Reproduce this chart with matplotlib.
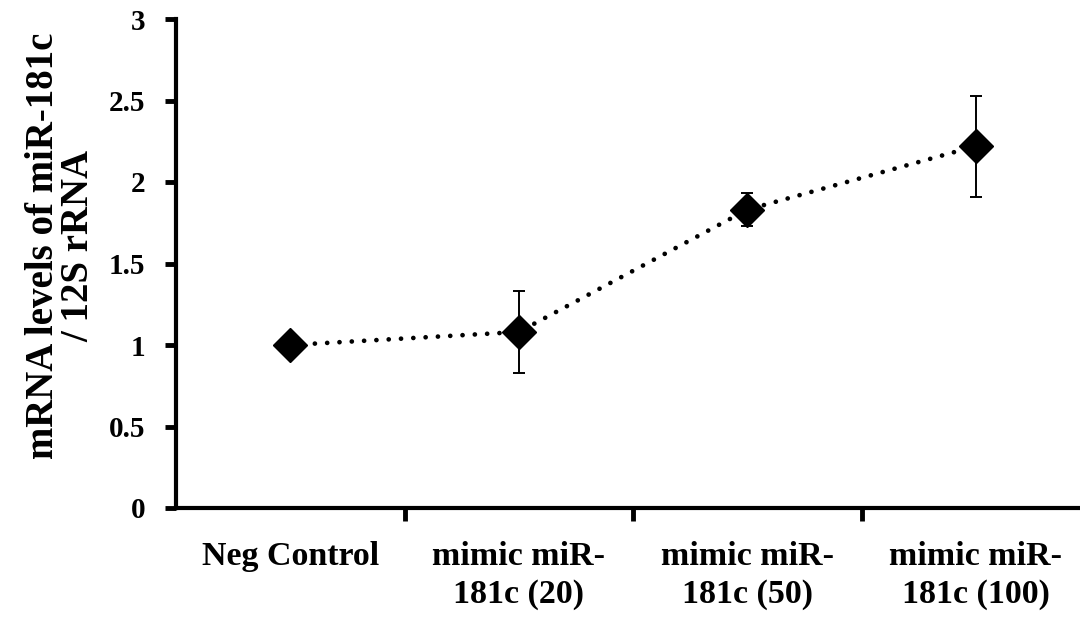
import matplotlib
matplotlib.use("Agg")
from matplotlib import pyplot as plt

groups = ["Neg Control", "mimic miR-\n181c (20)", "mimic miR-\n181c (50)", "mimic miR-\n181c (100)"]
levels = [1.0, 1.08, 1.83, 2.22]
errors = [0.0, 0.25, 0.10, 0.31]

plt.rcParams['font.family'] = ['Liberation Serif', 'DejaVu Serif']
plt.rcParams['font.weight'] = 'bold'

fig = plt.figure(figsize=(10.8, 6.19), dpi=100)
ax = fig.add_axes([176/1080, 1 - 508/619, 914/1080, 489/619])

x = list(range(len(groups)))
# dotted connecting line
ax.plot(x, levels, color='black', lw=3.4, linestyle=(0, (0.01, 2.6)),
        dash_capstyle='round', zorder=2)
ax.errorbar(x, levels, yerr=errors, fmt='none', ecolor='black',
            elinewidth=1.4, capsize=4, capthick=1.4, zorder=3)
ax.plot(x, levels, linestyle='none', marker='D', markersize=17,
        color='black', zorder=4)

ax.set_xlim(-0.5, 3.5)
ax.set_ylim(0, 3)
ax.set_yticks([0, 0.5, 1, 1.5, 2, 2.5, 3])
ax.set_yticklabels(["0", "0.5", "1", "1.5", "2", "2.5", "3"])
ax.set_xticks(x)
ax.set_xticklabels(groups, fontsize=24.5, fontweight='bold', linespacing=1.25)
ax.set_xticks([0.5, 1.5, 2.5], minor=True)
ax.tick_params(axis='x', which='major', length=0, pad=24)
ax.tick_params(axis='x', which='minor', length=9, width=3.5, direction='out')
ax.tick_params(axis='y', length=8, width=3.5, direction='out', pad=14,
               labelsize=21)
for lab in ax.get_yticklabels():
    lab.set_fontweight('bold')

for side in ['top', 'right']:
    ax.spines[side].set_visible(False)
for side in ['left', 'bottom']:
    ax.spines[side].set_linewidth(3)

fig.text(61/1080, 1 - 246/619, "mRNA levels of miR-181c\n/ 12S rRNA",
         rotation=90, ha='center', va='center', fontsize=28,
         fontweight='bold', linespacing=0.95)

fig.savefig("out.png", dpi=100)
